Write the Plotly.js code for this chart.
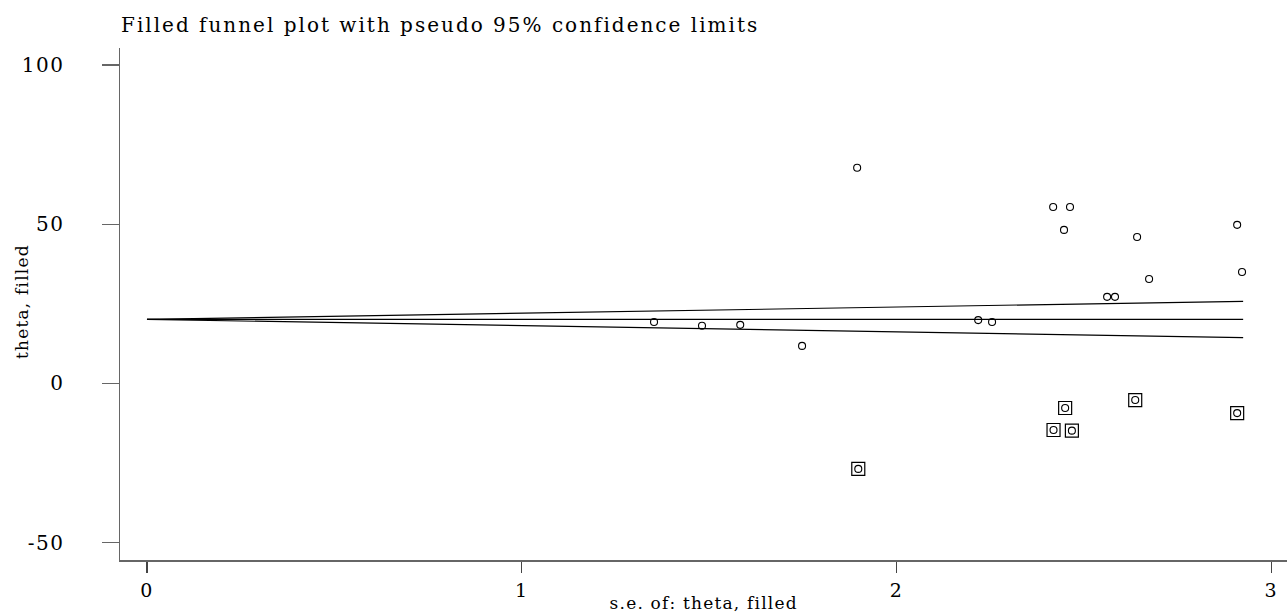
<!DOCTYPE html>
<html>
<head>
<meta charset="utf-8">
<script src="https://cdn.plot.ly/plotly-3.0.1.min.js"></script>
<style>
html,body{margin:0;padding:0;background:#fff;}
#chart{width:1287px;height:614px;}
#chart .gtitle{letter-spacing:2px;}
#chart .ytick text,#chart .xtick text{letter-spacing:1.5px;}
#chart .annotation-text{letter-spacing:1.2px;}
</style>
</head>
<body>
<div id="chart"></div>
<script>
// Observed studies
const obsSE = [1.353, 1.481, 1.583, 1.748, 1.895, 2.218, 2.255, 2.418, 2.463, 2.447, 2.562, 2.583, 2.642, 2.674, 2.909, 2.922];
const obsTheta = [19.3, 18.1, 18.4, 11.8, 67.7, 19.9, 19.3, 55.4, 55.4, 48.2, 27.2, 27.2, 46.0, 32.8, 49.8, 35.0];
// Filled (imputed) studies
const fillSE = [1.898, 2.450, 2.419, 2.468, 2.637, 2.909];
const fillTheta = [-26.8, -7.7, -14.6, -14.8, -5.2, -9.3];
// Pseudo 95% confidence limits
const limitSE = [0, 2.925];
const centreLine = [20.1, 20.1];
const upperLimit = [20.1, 25.8];
const lowerLimit = [20.1, 14.4];
// Ticks
const xTicks = [0, 1, 2, 3];
const yTicks = [-50, 0, 50, 100];
const yTickText = ['-50', '0', '50', '100'];

const fontFam = '"DejaVu Serif", serif';
const lineStyle = {color: '#000', width: 1.2};

const traces = [
  {x: limitSE, y: centreLine, mode: 'lines', line: lineStyle, hoverinfo: 'skip'},
  {x: limitSE, y: upperLimit, mode: 'lines', line: lineStyle, hoverinfo: 'skip'},
  {x: limitSE, y: lowerLimit, mode: 'lines', line: lineStyle, hoverinfo: 'skip'},
  {x: obsSE.concat(fillSE), y: obsTheta.concat(fillTheta), mode: 'markers',
   marker: {symbol: 'circle-open', size: 7, color: '#000', line: {width: 1.1, color: '#000'}}},
  {x: fillSE, y: fillTheta, mode: 'markers',
   marker: {symbol: 'square-open', size: 13, color: '#000', line: {width: 1.2, color: '#000'}}}
];

const layout = {
  width: 1287, height: 614,
  showlegend: false,
  paper_bgcolor: '#fff', plot_bgcolor: '#fff',
  margin: {l: 120, r: 0, t: 48, b: 54, pad: 0},
  font: {family: fontFam, color: '#000'},
  title: {text: 'Filled funnel plot with pseudo 95% confidence limits',
          x: 121/1287, xanchor: 'left', xref: 'container',
          y: 1 - 25/614, yanchor: 'middle', yref: 'container',
          font: {family: fontFam, size: 20, color: '#000'}},
  xaxis: {range: [-0.072, 3.042], tickvals: xTicks, ticktext: xTicks.map(String),
          showgrid: false, zeroline: false, showline: true, linecolor: '#666', linewidth: 1.5,
          ticks: 'outside', ticklen: 11, tickcolor: '#444', tickwidth: 1.3,
          tickfont: {family: fontFam, size: 19, color: '#000'}, ticklabelstandoff: 2},
  yaxis: {range: [-55.4, 105.3], tickvals: yTicks, ticktext: yTickText,
          showgrid: false, zeroline: false, showline: true, linecolor: '#666', linewidth: 1.5,
          ticks: 'outside', ticklen: 17, tickcolor: '#666', tickwidth: 1.3,
          tickfont: {family: fontFam, size: 20, color: '#000'}, ticklabelstandoff: 33},
  annotations: [
    {text: 's.e. of: theta, filled', xref: 'paper', yref: 'paper',
     x: 0.5, y: -(603-560)/512, xanchor: 'center', yanchor: 'middle',
     showarrow: false, font: {family: fontFam, size: 17, color: '#000'}},
    {text: 'theta, filled', xref: 'paper', yref: 'paper',
     x: -(120-22)/1167, y: (560-302)/512, xanchor: 'center', yanchor: 'middle', textangle: -90,
     showarrow: false, font: {family: fontFam, size: 17, color: '#000'}}
  ]
};

Plotly.newPlot('chart', traces, layout, {displayModeBar: false, staticPlot: true});
</script>
</body>
</html>
